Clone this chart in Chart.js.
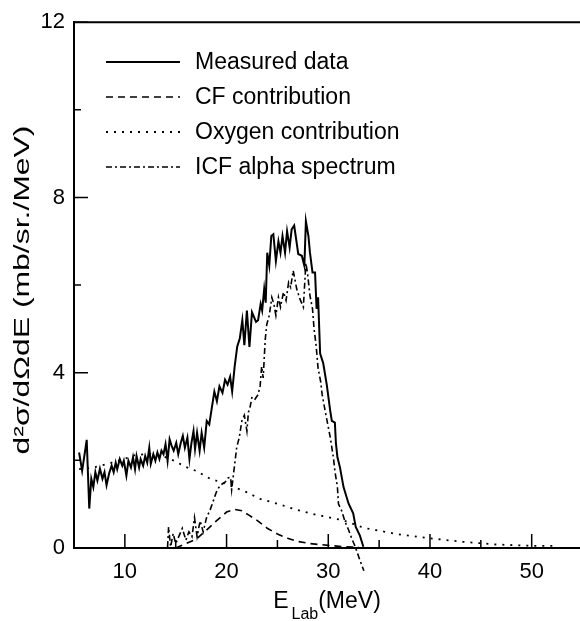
<!DOCTYPE html>
<html>
<head>
<meta charset="utf-8">
<script src="https://cdn.jsdelivr.net/npm/chart.js@4.4.1/dist/chart.umd.min.js"></script>
<style>
  html, body { margin: 0; padding: 0; background: #fff; }
  #wrap { width: 580px; height: 621px; }
</style>
</head>
<body>
<div id="wrap"><canvas id="c" width="580" height="621"></canvas></div>
<script>
// measured spectrum
const measE = [5.5,5.8,6.25,6.5,6.7,6.9,7.1,7.3,7.55,7.8,8.0,8.2,8.45,8.7,8.9,9.1,9.25,9.5,9.75,9.9,10.15,10.35,10.6,10.8,11.0,11.15,11.4,11.55,11.8,12.0,12.2,12.4,12.55,12.8,13.0,13.2,13.4,13.6,13.8,14.0,14.2,14.4,14.6,14.8,15.05,15.25,15.5,15.7,15.9,16.15,16.35,16.55,16.75,16.9,17.1,17.35,17.55,17.8,18.05,18.3,18.55,18.8,19.05,19.3,19.6,19.85,20.1,20.35,20.55,20.8,21.05,21.3,21.55,21.75,22.0,22.25,22.5,22.9,23.1,23.35,23.5,23.7,23.85,24.0,24.2,24.4,24.6,24.85,25.1,25.3,25.5,25.75,25.95,26.2,26.4,26.65,27.05,27.4,27.65,27.8,28.05,28.2,28.45,28.7,28.85,29.0,29.2,29.5,29.85,30.2,30.35,30.65,30.75,30.9,31.15,31.5,32.0,32.45,32.7,33.1,33.45];
const measY = [2.18,1.76,2.47,0.9,1.58,1.39,1.73,1.54,1.81,1.58,1.73,1.43,1.70,1.88,1.73,1.95,1.80,2.03,1.88,1.99,1.65,1.99,1.84,2.07,1.80,2.10,1.84,2.03,1.88,2.10,1.95,2.29,1.92,2.14,1.99,2.18,2.03,2.22,2.14,2.37,1.99,2.48,2.33,2.22,2.40,2.14,2.40,2.56,2.29,2.52,2.03,2.40,2.67,2.26,2.63,2.22,2.63,2.29,2.90,2.82,3.20,3.57,3.35,3.69,3.54,3.84,3.73,3.91,3.57,4.15,4.60,4.78,5.20,4.63,5.42,4.59,5.38,5.16,5.20,5.57,5.42,5.91,5.60,6.74,6.44,7.12,7.16,6.55,7.00,6.74,7.12,6.74,7.23,6.86,7.27,7.36,6.71,6.67,6.44,7.46,7.12,6.74,6.29,6.29,5.46,5.72,4.44,4.22,3.73,3.12,2.90,2.86,2.40,2.07,1.84,1.39,1.01,0.79,0.48,0.29,0.03];

// complete fusion contribution
const cfE = [15.0,16.0,17.0,18.0,19.0,20.0,20.8,21.5,22.2,23.0,24.0,25.0,26.0,27.0,28.2,30.0,31.5,33.0];
const cfY = [0.0,0.1,0.2,0.4,0.62,0.82,0.88,0.85,0.75,0.63,0.45,0.32,0.22,0.15,0.1,0.06,0.03,0.02];

// oxygen contribution
const oxE = [5.5,7.0,8.3,9.9,11.0,12.5,13.5,14.75,16.0,17.0,18.4,20.0,22.0,23.3,25.0,26.5,28.2,29.85,31.5,33.5,36.7,40.0,43.3,46.5,50.0,52.5];
const oxY = [1.80,1.84,1.92,2.03,2.12,2.15,2.12,2.00,1.85,1.76,1.58,1.46,1.27,1.12,1.01,0.90,0.79,0.71,0.63,0.46,0.32,0.22,0.14,0.08,0.05,0.05];

// incomplete fusion alpha spectrum
const icfE = [14.2,14.3,14.5,14.75,15.0,15.3,15.65,16.0,16.3,16.6,16.85,17.1,17.4,17.7,18.05,18.35,18.6,18.85,19.05,19.3,19.5,19.85,20.15,20.4,20.5,20.7,21.0,21.25,21.5,21.75,22.0,22.15,22.3,22.5,22.8,23.1,23.3,23.45,23.6,23.8,23.95,24.2,24.45,24.65,24.85,25.1,25.3,25.6,25.85,26.1,26.3,26.55,26.9,27.2,27.55,27.8,27.95,28.2,28.45,28.6,28.8,29.0,29.25,29.4,29.7,30.2,30.5,30.65,30.9,31.0,31.3,31.65,32.0,32.3,32.65,33.1,33.5];
const icfY = [0.02,0.48,0.03,0.33,0.1,0.26,0.45,0.18,0.37,0.26,0.69,0.26,0.62,0.37,0.71,0.85,1.01,1.18,1.31,1.40,1.45,1.50,1.60,1.61,1.33,1.72,2.30,2.52,2.90,3.03,2.67,3.10,3.20,3.45,3.40,3.50,3.70,4.14,3.88,4.75,5.10,5.31,5.72,5.57,5.31,5.72,5.50,5.84,5.65,6.06,5.95,6.33,5.91,5.69,5.50,6.50,6.29,5.76,5.46,5.01,4.63,4.10,3.80,3.50,3.12,2.52,2.07,1.76,1.39,1.01,0.86,0.60,0.41,0.22,0.03,-0.27,-0.52];

const seriesNames = ["Measured data", "CF contribution", "Oxygen contribution", "ICF alpha spectrum"];
const xTicks = [10, 20, 30, 40, 50];
const xMinor = [15, 25, 35, 45];
const yTicks = [0, 4, 8, 12];
const yMinor = [2, 6, 10];

const FONT = "'Liberation Sans', Arial, sans-serif";
const pts = (xs, ys) => xs.map((x, i) => ({ x: x, y: ys[i] }));

// ticks pointing into the plot, top frame line, legend and axis titles
const decor = {
    id: 'decor',
    afterDraw(chart) {
        const ctx = chart.ctx;
        const a = chart.chartArea;
        const sx = chart.scales.x, sy = chart.scales.y;
        ctx.save();
        ctx.strokeStyle = '#000';
        ctx.lineWidth = 2;
        ctx.beginPath();
        ctx.moveTo(a.left - 1, a.top);
        ctx.lineTo(a.right, a.top);
        ctx.stroke();
        ctx.lineWidth = 1.5;
        ctx.beginPath();
        xTicks.forEach(v => { const p = sx.getPixelForValue(v); ctx.moveTo(p, a.bottom); ctx.lineTo(p, a.bottom - 14); });
        xMinor.forEach(v => { const p = sx.getPixelForValue(v); ctx.moveTo(p, a.bottom); ctx.lineTo(p, a.bottom - 8); });
        yTicks.forEach(v => { const p = sy.getPixelForValue(v); ctx.moveTo(a.left, p); ctx.lineTo(a.left + 14, p); });
        yMinor.forEach(v => { const p = sy.getPixelForValue(v); ctx.moveTo(a.left, p); ctx.lineTo(a.left + 7, p); });
        ctx.stroke();

        // legend
        ctx.fillStyle = '#000';
        ctx.font = '23px ' + FONT;
        ctx.textBaseline = 'middle';
        chart.data.datasets.forEach((ds, i) => {
            const y = 62 + i * 35;
            ctx.lineWidth = ds.borderWidth;
            ctx.setLineDash(ds.borderDash || []);
            ctx.beginPath();
            ctx.moveTo(106, y);
            ctx.lineTo(180, y);
            ctx.stroke();
            ctx.setLineDash([]);
            ctx.fillText(ds.label, 195, y + 1);
        });

        // x title with subscript
        ctx.textBaseline = 'alphabetic';
        ctx.textAlign = 'left';
        const big = '23px ' + FONT, small = '16px ' + FONT;
        ctx.font = big;
        const wE = ctx.measureText('E').width;
        const wM = ctx.measureText('(MeV)').width;
        ctx.font = small;
        const wL = ctx.measureText('Lab').width;
        let x0 = (a.left + a.right) / 2 - (wE + 3 + wL + wM) / 2;
        ctx.font = big;
        ctx.fillText('E', x0, 608);
        ctx.font = small;
        ctx.fillText('Lab', x0 + wE + 3, 619);
        ctx.font = big;
        ctx.fillText('(MeV)', x0 + wE + 3 + wL, 608);

        // y title (stretched along its length like the original)
        ctx.translate(23, 290);
        ctx.rotate(-Math.PI / 2);
        ctx.scale(1.45, 1);
        ctx.textAlign = 'center';
        ctx.textBaseline = 'middle';
        ctx.font = '22px ' + FONT;
        ctx.fillText('d²σ/dΩdE (mb/sr./MeV)', 0, 0);
        ctx.restore();
    }
};

new Chart(document.getElementById('c'), {
    type: 'scatter',
    data: {
        datasets: [
            { label: seriesNames[0], data: pts(measE, measY), borderColor: '#000', borderWidth: 2 },
            { label: seriesNames[1], data: pts(cfE, cfY), borderColor: '#000', borderWidth: 1.6, borderDash: [7, 5] },
            { label: seriesNames[2], data: pts(oxE, oxY), borderColor: '#000', borderWidth: 1.8, borderDash: [2, 6] },
            { label: seriesNames[3], data: pts(icfE, icfY), borderColor: '#000', borderWidth: 1.6, borderDash: [6, 3, 2, 3], clip: false }
        ].map(d => Object.assign(d, { showLine: true, pointRadius: 0, tension: 0, fill: false }))
    },
    options: {
        responsive: false,
        animation: false,
        layout: { padding: { top: 18, right: 0, left: 0, bottom: 0 } },
        plugins: { legend: { display: false }, tooltip: { enabled: false } },
        scales: {
            x: {
                type: 'linear', min: 5, max: 54.75,
                afterBuildTicks: s => { s.ticks = xTicks.map(v => ({ value: v })); },
                afterFit: s => { s.height = 73; },
                grid: { display: false, drawTicks: false },
                border: { display: true, color: '#000', width: 2 },
                ticks: { color: '#000', padding: 11, maxRotation: 0, font: { family: FONT, size: 22 } }
            },
            y: {
                type: 'linear', min: 0, max: 12,
                afterBuildTicks: s => { s.ticks = yTicks.map(v => ({ value: v })); },
                afterFit: s => { s.width = 74; },
                grid: { display: false, drawTicks: false },
                border: { display: true, color: '#000', width: 2 },
                ticks: { color: '#000', padding: 9, font: { family: FONT, size: 22 } }
            }
        }
    },
    plugins: [decor]
});
</script>
</body>
</html>
